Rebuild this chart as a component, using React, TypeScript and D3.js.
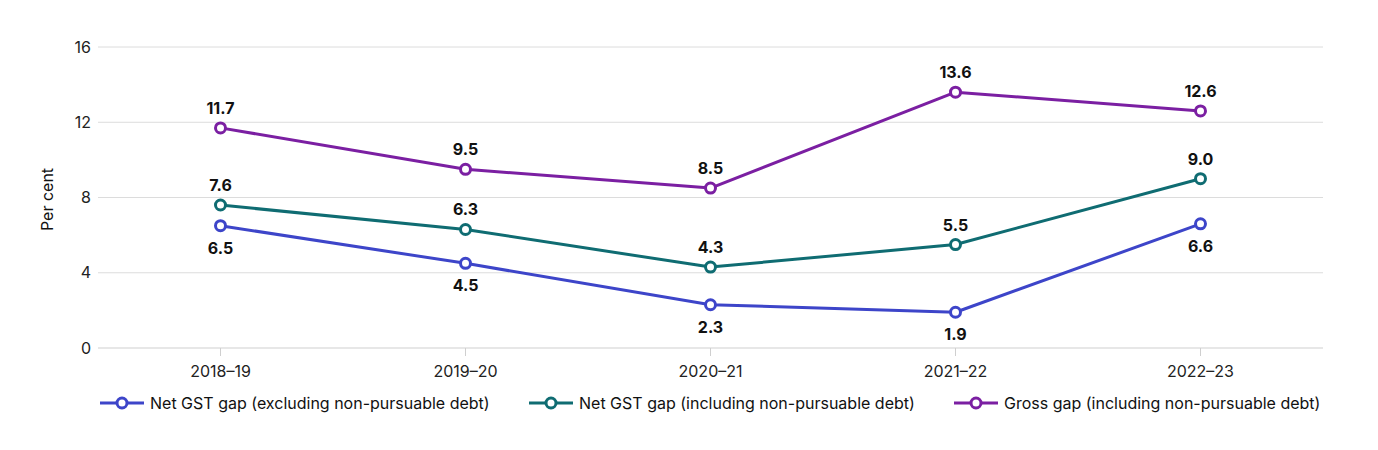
import React from "react";
import * as d3 from "d3";

const categories = ["2018–19", "2019–20", "2020–21", "2021–22", "2022–23"];
const netExcl = [6.5, 4.5, 2.3, 1.9, 6.6];
const netIncl = [7.6, 6.3, 4.3, 5.5, 9.0];
const gross = [11.7, 9.5, 8.5, 13.6, 12.6];
const yTicks = [0, 4, 8, 12, 16];
const seriesNames = [
  "Net GST gap (excluding non-pursuable debt)",
  "Net GST gap (including non-pursuable debt)",
  "Gross gap (including non-pursuable debt)",
];

const W = 1378;
const H = 450;
const left = 98;
const right = 1323;
const top = 47;
const bottom = 348;
const font = "Inter, 'Noto Sans', sans-serif";

const series = [
  { name: seriesNames[0], values: netExcl, color: "#3d45c9", labelPos: "below", legendX: 100 },
  { name: seriesNames[1], values: netIncl, color: "#0f6c72", labelPos: "above", legendX: 529 },
  { name: seriesNames[2], values: gross, color: "#7b1fa2", labelPos: "above", legendX: 954 },
];

export default function App() {
  const x = d3.scaleBand<string>().domain(categories).range([left, right]);
  const y = d3.scaleLinear().domain([0, 16]).range([bottom, top]);
  const cx = (c: string) => (x(c) ?? 0) + x.bandwidth() / 2;
  const line = d3
    .line<number>()
    .x((_, i) => cx(categories[i]))
    .y((d) => y(d));

  return (
    <svg width={W} height={H} style={{ display: "block", position: "absolute", left: 0, top: 0 }} fontFamily={font}>
      <rect width={W} height={H} fill="#fff" />
      {yTicks.map((t) => (
        <g key={t}>
          <line x1={left} x2={right} y1={y(t)} y2={y(t)} stroke={t === 0 ? "#cfcfcf" : "#dcdcdc"} strokeWidth={1} />
          <text x={91} y={y(t)} dy="0.35em" textAnchor="end" fontSize={16} fill="#222">
            {t}
          </text>
        </g>
      ))}
      <text transform={`translate(53, ${(top + bottom) / 2 + 2}) rotate(-90)`} textAnchor="middle" fontSize={16} fill="#111">
        Per cent
      </text>
      {categories.map((c) => (
        <g key={c}>
          <line x1={cx(c)} x2={cx(c)} y1={bottom} y2={bottom + 8} stroke="#cfcfcf" />
          <text x={cx(c)} y={377} textAnchor="middle" fontSize={16} fill="#222">
            {c}
          </text>
        </g>
      ))}
      {series.map((s) => (
        <g key={s.name}>
          <path d={line(s.values) ?? ""} fill="none" stroke={s.color} strokeWidth={3} strokeLinejoin="round" />
          {s.values.map((v, i) => (
            <circle key={i} cx={cx(categories[i])} cy={y(v)} r={5} fill="#fff" stroke={s.color} strokeWidth={3} />
          ))}
          {s.values.map((v, i) => (
            <text
              key={"l" + i}
              x={cx(categories[i])}
              y={s.labelPos === "above" ? y(v) - 14 : y(v) + 28}
              textAnchor="middle"
              fontSize={16}
              fontWeight={700}
              fill="#111"
            >
              {v.toFixed(1)}
            </text>
          ))}
        </g>
      ))}
      {series.map((s) => (
        <g key={"lg" + s.name} transform={`translate(${s.legendX}, 403)`}>
          <line x1={0} x2={44} y1={0} y2={0} stroke={s.color} strokeWidth={3} />
          <circle cx={22} cy={0} r={5} fill="#fff" stroke={s.color} strokeWidth={3} />
          <text x={50} y={0} dy="0.35em" fontSize={16} fill="#111">
            {s.name}
          </text>
        </g>
      ))}
    </svg>
  );
}
